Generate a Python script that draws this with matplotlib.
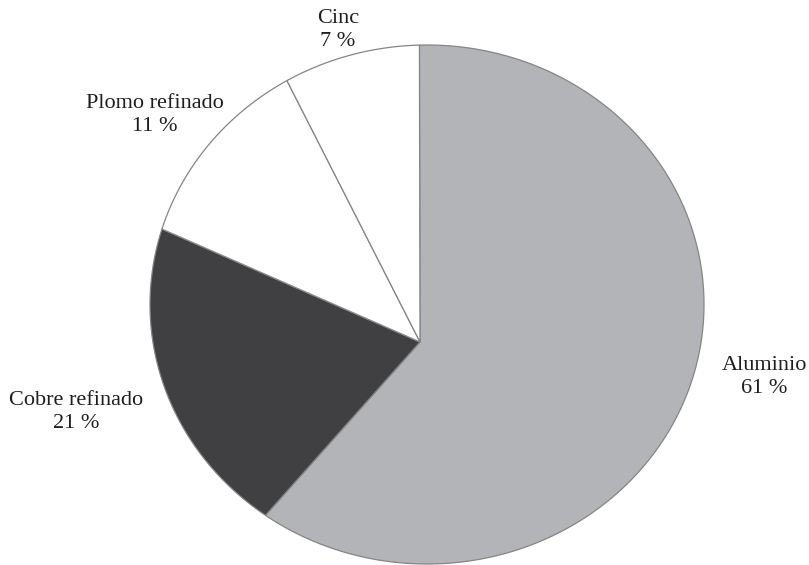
import numpy as np
import matplotlib
matplotlib.use("Agg")
import matplotlib.pyplot as plt
from matplotlib.transforms import Transform
from matplotlib.path import Path

# Production shares by metal (percent)
metals = ["Aluminio", "Cobre refinado", "Plomo refinado", "Cinc"]
shares = [61, 21, 11, 7]
colors = ["#b3b4b8", "#404043", "#ffffff", "#ffffff"]

# Label anchor points (image pixel coordinates)
label_pos = [(764, 377), (76, 412), (155, 115), (338, 30)]

# Outline of the disc on the page and the point where the slices meet
DISC_CENTER = (427.0, 304.5)
DISC_RADII = (277.0, 259.5)
APEX = (420.0, 342.0)


class TiltedDisc(Transform):
    """Projective map of the unit disc onto an ellipse whose hub is off-centre."""
    input_dims = output_dims = 2
    is_separable = False
    has_inverse = False

    def __init__(self, center, radii, hub):
        super().__init__()
        cx, cy = center
        rx, ry = radii
        p = np.array([(hub[0] - cx) / rx, -(hub[1] - cy) / ry])
        n = np.linalg.norm(p)
        g = 1.0 / np.sqrt(1.0 - n * n)
        ph = p / n if n > 0 else np.zeros(2)
        boost = np.eye(3)
        boost[:2, :2] = np.eye(2) + (g - 1.0) * np.outer(ph, ph)
        boost[:2, 2] = g * p
        boost[2, :2] = g * p
        boost[2, 2] = g
        affine = np.array([[rx, 0.0, cx], [0.0, -ry, cy], [0.0, 0.0, 1.0]])
        self.M = affine @ boost

    def transform_non_affine(self, values):
        v = np.atleast_2d(np.asarray(values, float))
        h = np.column_stack([v, np.ones(len(v))]) @ self.M.T
        return h[:, :2] / h[:, 2:3]

    def transform_path_non_affine(self, path):
        pts = []
        t = np.linspace(0.0, 1.0, 40)
        for seg, _ in path.iter_bezier():
            pts.append(seg(t))
        pts = np.vstack(pts)
        pts = np.vstack([pts, pts[:1]])
        return Path(self.transform_non_affine(pts), closed=True)


fig = plt.figure(figsize=(8.09, 5.65), dpi=100)
ax = fig.add_axes([0, 0, 1, 1])

wedges, _ = ax.pie(
    shares,
    colors=colors,
    startangle=90,
    counterclock=False,
    wedgeprops=dict(edgecolor="#858585", linewidth=0.9),
)

disc = TiltedDisc(DISC_CENTER, DISC_RADII, APEX)
for w in wedges:
    w.set_transform(disc + ax.transData)

ax.set_aspect("auto")
ax.set_xlim(0, 809)
ax.set_ylim(565, 0)
ax.axis("off")

for name, val, (x, y) in zip(metals, shares, label_pos):
    ax.text(x, y, f"{name}\n{val} %", ha="center", va="center",
            fontsize=16, family="Liberation Serif", color="#1e1e1e",
            linespacing=1.3)

fig.savefig("out.png", dpi=100, facecolor="white")
